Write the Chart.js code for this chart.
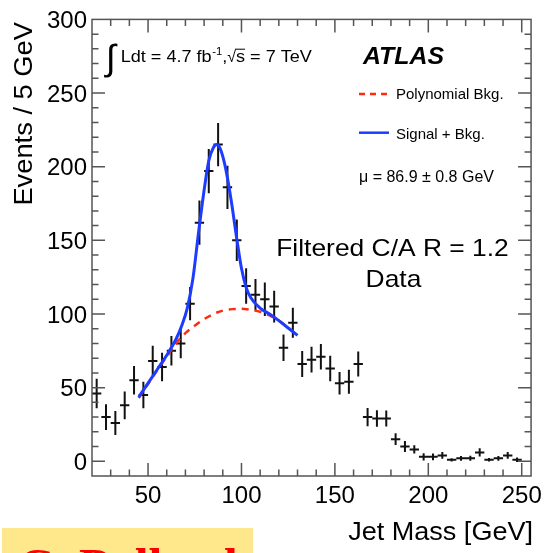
<!DOCTYPE html>
<html>
<head>
<meta charset="utf-8">
<script src="https://cdn.jsdelivr.net/npm/chart.js@4.4.0/dist/chart.umd.min.js"></script>
<style>
  html, body { margin: 0; padding: 0; background: #fff; overflow: hidden; }
  #wrap { position: relative; width: 548px; height: 553px; overflow: hidden; }
  #plot { position: absolute; left: 0; top: 0; width: 548px; height: 553px; }
  #tag { position: absolute; left: 2px; top: 528px; width: 251px; height: 40px; background: #ffe88c; }
  #tag span { position: absolute; left: 16px; top: 13px; font: bold 50px "Liberation Serif", serif; line-height: 1; color: #f00; white-space: nowrap; }
</style>
</head>
<body>
<div id="wrap">
  <div id="plot"><canvas id="mass-chart"></canvas></div>
  <div id="tag"><span>C. Pollard</span></div>
</div>
<script>
// jet mass histogram, 5 GeV bins
const binCenters = [22.5, 27.5, 32.5, 37.5, 42.5, 47.5, 52.5, 57.5, 62.5, 67.5,
  72.5, 77.5, 82.5, 87.5, 92.5, 97.5, 102.5, 107.5, 112.5, 117.5,
  122.5, 127.5, 132.5, 137.5, 142.5, 147.5, 152.5, 157.5, 162.5, 167.5,
  172.5, 177.5, 182.5, 187.5, 192.5, 197.5, 202.5, 207.5, 212.5, 217.5,
  222.5, 227.5, 232.5, 237.5, 242.5, 247.5];
const eventCounts = [46, 30, 26, 38, 55, 45, 68, 64, 75, 80,
  107, 162, 197, 215, 186, 150, 119, 113, 110, 105,
  77, 94, 66, 69, 71, 63, 53, 54, 66, 30,
  29, 29, 15, 10, 8, 3, 3, 4, 1, 2,
  2, 6, 1, 2, 4, 1];
const eventErrors = [10, 8.7, 8.2, 9.4, 9.6, 9, 10.5, 9.6, 10, 10,
  11.3, 15, 15, 14.7, 14.7, 14.1, 12.1, 10.7, 11.3, 10.7,
  9, 10.2, 8.8, 8.7, 8.7, 8.7, 7.6, 8.1, 8.5, 6.2,
  5.6, 5.4, 4, 3.7, 2.8, 2.5, 2.3, 2.3, 1.1, 1.6,
  1.7, 2.8, 1.2, 1.6, 2.3, 1.5];
const binHalf = 2.5;

// fit curves
const sigX = [45, 50, 55, 60, 65, 68, 71, 74, 77, 80, 82.5, 85, 87, 89, 91.5,
  94.5, 97.5, 100, 102.5, 105, 110, 115, 120, 125, 130];
const sigY = [43.5, 53, 62.5, 72, 83, 92, 104, 124, 155, 184, 204, 213, 215, 211, 199,
  177, 151, 131, 118, 111, 104, 100, 95.5, 90.5, 85.5];
const bkgX = [45, 50, 55, 60, 65, 70, 75, 80, 85, 90, 95, 100, 105, 110, 115, 120, 125, 130];
const bkgY = [43, 52.5, 62, 71, 80, 87, 92, 96.5, 100, 102.3, 103.3, 103.5, 102.8, 101.5, 99, 95.5, 90.8, 85.5];

const xTickLabels = [50, 100, 150, 200, 250];
const yTickLabels = [0, 50, 100, 150, 200, 250, 300];

const SANS = '"Liberation Sans", Arial, sans-serif';

function wideText(ctx, str, x, y, font, align, sx) {
  ctx.save();
  ctx.font = font;
  ctx.textAlign = align;
  ctx.textBaseline = "alphabetic";
  ctx.translate(x, y);
  ctx.scale(sx, 1);
  ctx.fillText(str, 0, 0);
  const w = ctx.measureText(str).width * sx;
  ctx.restore();
  return w;
}

const atlasFrame = {
  id: "atlasFrame",
  beforeDatasetsDraw(chart) {
    const ctx = chart.ctx, ys = chart.scales.y, xs = chart.scales.x;
    const meta = chart.getDatasetMeta(2);
    ctx.save();
    ctx.strokeStyle = "#111";
    ctx.lineWidth = 2;
    ctx.beginPath();
    meta.data.forEach((pt, i) => {
      const v = eventCounts[i], e = eventErrors[i];
      ctx.moveTo(pt.x, ys.getPixelForValue(v - e));
      ctx.lineTo(pt.x, ys.getPixelForValue(v + e));
      ctx.moveTo(xs.getPixelForValue(binCenters[i] - binHalf), pt.y);
      ctx.lineTo(xs.getPixelForValue(binCenters[i] + binHalf), pt.y);
    });
    ctx.stroke();
    ctx.restore();
  },
  afterDraw(chart) {
    const ctx = chart.ctx, a = chart.chartArea;
    const xs = chart.scales.x, ys = chart.scales.y;
    ctx.save();
    // frame
    ctx.strokeStyle = "#555";
    ctx.lineWidth = 1.5;
    ctx.strokeRect(a.left, a.top, a.right - a.left, a.bottom - a.top);
    // inward ticks on all four sides
    ctx.beginPath();
    for (let v = 30; v < xs.max; v += 10) {
      const p = xs.getPixelForValue(v);
      const len = v % 50 === 0 ? 13 : 6.5;
      ctx.moveTo(p, a.bottom); ctx.lineTo(p, a.bottom - len);
      ctx.moveTo(p, a.top); ctx.lineTo(p, a.top + len);
    }
    for (let v = 0; v < ys.max; v += 10) {
      const p = ys.getPixelForValue(v);
      const len = v % 50 === 0 ? 13 : 6.5;
      ctx.moveTo(a.left, p); ctx.lineTo(a.left + len, p);
      ctx.moveTo(a.right, p); ctx.lineTo(a.right - len, p);
    }
    ctx.stroke();

    ctx.fillStyle = "#000";
    // axis titles
    wideText(ctx, "Jet Mass [GeV]", 533, 539.5, "26px " + SANS, "right", 1.04);
    ctx.save();
    ctx.translate(31.5, 22);
    ctx.rotate(-Math.PI / 2);
    wideText(ctx, "Events / 5 GeV", 0, 0, "26px " + SANS, "right", 1.05);
    ctx.restore();

    // luminosity label
    ctx.save();
    ctx.font = "36px " + SANS;
    ctx.textAlign = "left";
    ctx.fillText("\u222B", 106, 70);
    ctx.restore();
    let x = 120.7;
    const base = 61.7;
    x += wideText(ctx, "Ldt = 4.7 fb", x, base, "16px " + SANS, "left", 1.13);
    x += wideText(ctx, "-1", x + 0.5, base - 7, "10px " + SANS, "left", 1.13) + 0.5;
    x += wideText(ctx, ",", x, base, "16px " + SANS, "left", 1.13);
    x += wideText(ctx, "\u221A", x, base, "16px " + SANS, "left", 1.0);
    const sW = wideText(ctx, "s", x, base, "16px " + SANS, "left", 1.13);
    ctx.strokeStyle = "#000";
    ctx.lineWidth = 1;
    ctx.beginPath();
    ctx.moveTo(x - 1, base - 12.5); ctx.lineTo(x + sW, base - 12.5);
    ctx.stroke();
    x += sW;
    wideText(ctx, " = 7 TeV", x, base, "16px " + SANS, "left", 1.13);

    wideText(ctx, "ATLAS", 363, 64, "italic bold 23px " + SANS, "left", 1.08);

    // legend
    ctx.lineWidth = 2.5;
    ctx.strokeStyle = "#ff2a10";
    ctx.setLineDash([6, 5]);
    ctx.beginPath(); ctx.moveTo(359, 94); ctx.lineTo(389, 94); ctx.stroke();
    ctx.setLineDash([]);
    ctx.strokeStyle = "#1e3cff";
    ctx.beginPath(); ctx.moveTo(359, 132.7); ctx.lineTo(389, 132.7); ctx.stroke();
    wideText(ctx, "Polynomial Bkg.", 396, 99, "15px " + SANS, "left", 1.0);
    wideText(ctx, "Signal + Bkg.", 396, 139, "15px " + SANS, "left", 1.0);
    wideText(ctx, "\u03BC = 86.9 \u00B1 0.8 GeV", 359, 181.5, "16px " + SANS, "left", 1.0);

    wideText(ctx, "Filtered C/A R = 1.2", 392.5, 256, "24px " + SANS, "center", 1.1);
    wideText(ctx, "Data", 393.5, 286.7, "24px " + SANS, "center", 1.1);
    ctx.restore();
  }
};

const ctx = document.getElementById("mass-chart").getContext("2d");
const massChart = new Chart(ctx, {
  type: "scatter",
  data: {
    datasets: [
      {
        label: "Signal + Bkg.",
        type: "line",
        data: sigX.map((m, i) => ({ x: m, y: sigY[i] })),
        borderColor: "#1e3cff",
        borderWidth: 3,
        pointRadius: 0,
        fill: false,
        cubicInterpolationMode: "monotone",
      },
      {
        label: "Polynomial Bkg.",
        type: "line",
        data: bkgX.map((m, i) => ({ x: m, y: bkgY[i] })),
        borderColor: "#ff2a10",
        borderWidth: 2.5,
        borderDash: [7, 6],
        pointRadius: 0,
        fill: false,
        cubicInterpolationMode: "monotone",
      },
      {
        label: "Data",
        data: binCenters.map((m, i) => ({ x: m, y: eventCounts[i] })),
        pointRadius: 0,
        showLine: false,
      },
    ],
  },
  options: {
    responsive: true,
    maintainAspectRatio: false,
    animation: false,
    layout: { padding: { top: 19, right: 12, left: 0, bottom: 0 } },
    scales: {
      x: {
        type: "linear",
        min: 20,
        max: 255,
        afterBuildTicks: (axis) => { axis.ticks = xTickLabels.map((v) => ({ value: v })); },
        afterFit: (axis) => { axis.height = 77; },
        grid: { display: false, drawTicks: false },
        border: { display: false },
        ticks: {
          padding: 6,
          color: "#000",
          font: { family: "Liberation Sans", size: 24 },
          maxRotation: 0,
        },
      },
      y: {
        min: -10,
        max: 300,
        afterBuildTicks: (axis) => { axis.ticks = yTickLabels.map((v) => ({ value: v })); },
        afterFit: (axis) => { axis.width = 92; },
        grid: { display: false, drawTicks: false },
        border: { display: false },
        ticks: {
          padding: 5,
          labelOffset: 2,
          color: "#000",
          font: { family: "Liberation Sans", size: 24 },
        },
      },
    },
    plugins: {
      legend: { display: false },
      tooltip: { enabled: false },
    },
  },
  plugins: [atlasFrame],
});
</script>
</body>
</html>
